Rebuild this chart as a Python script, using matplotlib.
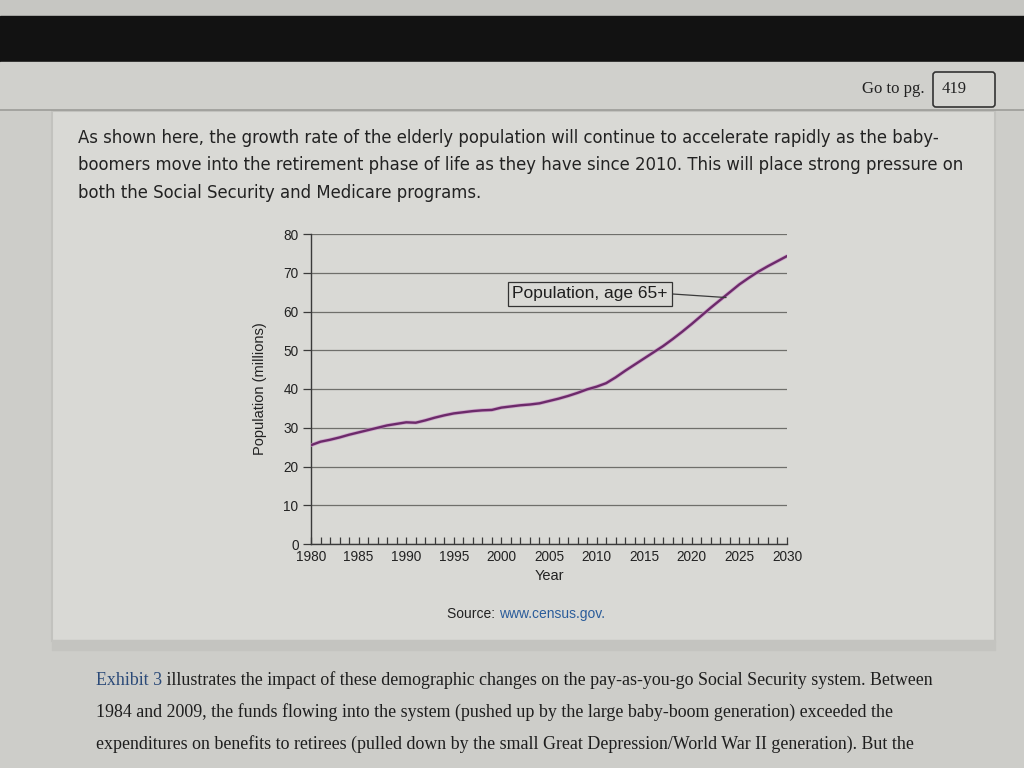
import matplotlib.pyplot as plt
from matplotlib.patches import Rectangle, FancyBboxPatch
from matplotlib.ticker import MultipleLocator

plt.rcParams['font.family'] = ['Liberation Sans', 'DejaVu Sans']

# ---- data: population age 65+ (millions) ----
years = list(range(1980, 2031))
pop65 = [25.5, 26.4, 26.9, 27.5, 28.2, 28.8, 29.4, 30.0, 30.6, 31.0,
         31.4, 31.3, 31.9, 32.6, 33.2, 33.7, 34.0, 34.3, 34.5, 34.6,
         35.2, 35.5, 35.8, 36.0, 36.3, 36.9, 37.5, 38.2, 39.0, 39.9,
         40.6, 41.5, 43.0, 44.7, 46.3, 47.9, 49.5, 51.1, 52.9, 54.8,
         56.8, 58.9, 61.0, 63.0, 65.0, 67.0, 68.7, 70.3, 71.7, 73.0,
         74.3]
y_ticks = [0, 10, 20, 30, 40, 50, 60, 70, 80]
x_ticks = [1980, 1985, 1990, 1995, 2000, 2005, 2010, 2015, 2020, 2025, 2030]

intro_lines = [
    "As shown here, the growth rate of the elderly population will continue to accelerate rapidly as the baby-",
    "boomers move into the retirement phase of life as they have since 2010. This will place strong pressure on",
    "both the Social Security and Medicare programs.",
]
after_lines = [
    ("Exhibit 3", " illustrates the impact of these demographic changes on the pay-as-you-go Social Security system. Between"),
    ("", "1984 and 2009, the funds flowing into the system (pushed up by the large baby-boom generation) exceeded the"),
    ("", "expenditures on benefits to retirees (pulled down by the small Great Depression/World War II generation). But the"),
]

W, H = 1024, 768
fig = plt.figure(figsize=(W / 100, H / 100), dpi=100)

# ---- page background, drawn in pixel coordinates ----
bg = fig.add_axes([0, 0, 1, 1])
bg.set_xlim(0, W)
bg.set_ylim(H, 0)
bg.axis("off")
bg.add_patch(Rectangle((0, 0), W, H, color="#cdcdc9", zorder=0))
bg.add_patch(Rectangle((0, 0), W, 16, color="#c6c6c2", zorder=1))
bg.add_patch(Rectangle((0, 16), W, 46, color="#121212", zorder=1))
bg.add_patch(Rectangle((0, 62), W, 48, color="#d0d0cc", zorder=1))
bg.plot([0, W], [110, 110], color="#9c9c98", lw=1.2, zorder=2)
bg.add_patch(Rectangle((52, 111), 943, 530, facecolor="#d9d9d5",
                       edgecolor="#c2c2be", lw=1.5, zorder=1))
bg.add_patch(Rectangle((52, 640), 943, 10, color="#c4c4c0", zorder=1))

# header: Go to pg. box
bg.text(925, 89, "Go to pg.", family="Liberation Serif", fontsize=12,
        color="#222222", ha="right", va="center", zorder=3)
bg.add_patch(FancyBboxPatch((933, 72), 62, 35, boxstyle="round,pad=0,rounding_size=3",
                            facecolor="#d6d6d2", edgecolor="#333333", lw=1.2, zorder=3))
bg.text(942, 89, "419", family="Liberation Serif", fontsize=12,
        color="#222222", ha="left", va="center", zorder=4)

# intro paragraph
for i, line in enumerate(intro_lines):
    bg.text(78, 138 + i * 27.5, line, family="DejaVu Sans", fontsize=11.9,
            color="#222222", ha="left", va="center", zorder=3)

# paragraph after the chart
for i, (blue, rest) in enumerate(after_lines):
    y = 685 + i * 32
    if blue:
        t = bg.text(96, y, blue, family="Liberation Serif", fontsize=12.9,
                    color="#2b4a78", ha="left", va="baseline", zorder=3)
        bg.annotate(rest, xy=(1, 0), xycoords=t, family="Liberation Serif",
                    fontsize=12.9, color="#1e1e1e", ha="left", va="bottom", zorder=3)
    else:
        bg.text(96, y, rest, family="Liberation Serif", fontsize=12.9,
                color="#1e1e1e", ha="left", va="baseline", zorder=3)

# ---- the chart ----
left, right, top, bottom = 311, 787, 234, 544
ax = fig.add_axes([left / W, 1 - bottom / H, (right - left) / W, (bottom - top) / H])
ax.set_facecolor("none")
ax.plot(years, pop65, color="#c995c6", lw=2.8, alpha=0.7, solid_capstyle="round", zorder=3)
ax.plot(years, pop65, color="#6c2a6a", lw=1.7, solid_capstyle="round", zorder=4)

ax.set_xlim(1980, 2030)
ax.set_ylim(0, 80)
ax.set_yticks(y_ticks)
ax.set_xticks(x_ticks)
ax.xaxis.set_minor_locator(MultipleLocator(1))
ax.grid(axis="y", color="#6f6f6b", lw=0.9)
ax.set_axisbelow(True)
for s in ["top", "right"]:
    ax.spines[s].set_visible(False)
for s in ["left", "bottom"]:
    ax.spines[s].set_color("#3a3a3a")
    ax.spines[s].set_linewidth(1.0)
ax.tick_params(axis="y", direction="out", length=6, width=0.9, color="#3a3a3a",
               labelsize=9.8, labelcolor="#222222", pad=3)
ax.tick_params(axis="x", which="both", direction="in", length=5, width=0.9,
               color="#3a3a3a", labelsize=9.8, labelcolor="#222222", pad=4)

ax.set_xlabel("Year", fontsize=10.5, color="#222222", labelpad=4)
ax.set_ylabel("Population (millions)", fontsize=10.5, color="#222222", labelpad=12)

ax.annotate("Population, age 65+", xy=(2023.6, 63.6), xytext=(2009.3, 64.6),
            textcoords="data", fontsize=12.5,
            color="#1e1e1e", ha="center", va="center",
            bbox=dict(boxstyle="square,pad=0.25", facecolor="#dadad6",
                      edgecolor="#333333", lw=0.9),
            arrowprops=dict(arrowstyle="-", color="#3a3a3a", lw=0.9,
                            relpos=(1, 0.5), shrinkA=0, shrinkB=0),
            zorder=5)

# source line
src = bg.text(447, 614, "Source: ", fontsize=10,
              color="#222222", ha="left", va="center", zorder=3)
bg.annotate("www.census.gov.", xy=(1, 0), xycoords=src,
            fontsize=10, color="#2a5c9a", ha="left", va="bottom", zorder=3)

plt.savefig("out.png", dpi=100)
plt.close()
